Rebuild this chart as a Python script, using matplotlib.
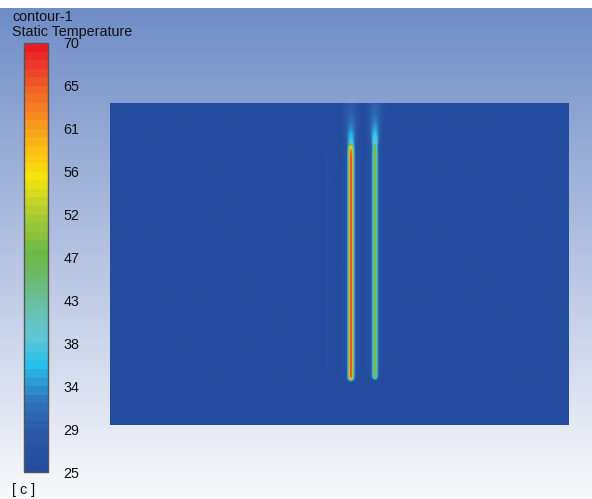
import numpy as np
import matplotlib.pyplot as plt
from matplotlib.colors import LinearSegmentedColormap, BoundaryNorm
from matplotlib.cm import ScalarMappable

plt.rcParams['font.family'] = ['Liberation Sans', 'DejaVu Sans']

# legend scale
t_min, t_max = 25, 70
n_bands = 50
tick_values = [25, 29.5, 34, 38.5, 43, 47.5, 52, 56.5, 61, 65.5, 70]
tick_labels = ['25', '29', '34', '38', '43', '47', '52', '56', '61', '65', '70']

# colour stops of the banded rainbow
anchor_temps = [25, 29, 32, 34.5, 36, 39, 42, 45, 48, 52, 56, 59, 62, 65, 68, 70]
anchor_colors = ['#244c9e', '#2a5aa8', '#2f74bb', '#2aa2da', '#27c0ec', '#5ec6d4',
                 '#68c0ad', '#6bbb70', '#6cb944', '#a9ca36', '#f4e60a', '#fcc012',
                 '#f7941e', '#f26a25', '#ec3b2b', '#ec1c24']

# domain size (pixels of the picture)
dom_w, dom_h = 459, 322

# hot streaks: centre x, peak temperature, top y, bottom y, half width
streak_x = [241, 265, 217]
streak_peak = [66, 48, 27.5]
streak_top = [281, 283, 272]
streak_bottom = [45, 46, 55]
streak_width = [1.9, 1.8, 0.9]
# glow above the tips and weak halo along the streaks
plume_amp = [12, 12, 0]
plume_tail = [5, 6, 0]
halo_amp = [2.0, 2.0, 0]

# background gradient of the window
bg_top = np.array([112, 141, 199]) / 255
bg_bottom = np.array([249, 249, 251]) / 255


def sig(z):
    return 1 / (1 + np.exp(-z))


stops = [(t - t_min) / (t_max - t_min) for t in anchor_temps]
smooth = LinearSegmentedColormap.from_list('fluent', list(zip(stops, anchor_colors)))
cmap = LinearSegmentedColormap.from_list('bands', smooth(np.linspace(0, 1, n_bands)), N=n_bands)
levels = np.linspace(t_min, t_max, n_bands + 1)
norm = BoundaryNorm(levels, cmap.N)

# temperature field
gx = np.linspace(0, dom_w, 920)
gy = np.linspace(0, dom_h, 645)
X, Y = np.meshgrid(gx, gy)
field = np.zeros(X.shape)
for x0, pk, yt, yb, w, pa, ptail, ha in zip(streak_x, streak_peak, streak_top, streak_bottom,
                                             streak_width, plume_amp, plume_tail, halo_amp):
    dx = X - x0
    along = sig((yt - Y) / 2.5) * sig((Y - yb) / 0.8)
    core = (pk - t_min) * np.exp(-0.5 * (dx / w) ** 2) * along
    above = np.clip(Y - yt + 4, 0, None)
    pw = 2.2 + 0.08 * above
    plume = (pa * np.exp(-above / 16) + ptail * np.exp(-above / 90)) \
        * np.exp(-0.5 * (dx / pw) ** 2) * sig((Y - yt + 6) / 2)
    halo = ha * np.exp(-0.5 * (dx / 7) ** 2) * sig((yt + 20 - Y) / 10) * sig((Y - yb) / 3)
    field = np.maximum(field, np.maximum(core, plume) + halo)
field = t_min + field

fig = plt.figure(figsize=(5.92, 4.99), dpi=100)

# window background
bg = fig.add_axes([0, 0, 1, 491 / 499])
frac = np.linspace(0, 1, 256)[:, None]
grad = bg_top[None, :] * (1 - frac) + bg_bottom[None, :] * frac
bg.imshow(grad[:, None, :], aspect='auto', extent=[0, 1, 0, 1])
bg.set_axis_off()

# contour domain
ax = fig.add_axes([110 / 592, (499 - 425) / 499, dom_w / 592, dom_h / 499])
ax.imshow(field, origin='lower', extent=[0, dom_w, 0, dom_h], cmap=cmap, norm=norm,
          aspect='auto', interpolation='bilinear')
ax.set_axis_off()

# colour bar
cax = fig.add_axes([24 / 592, (499 - 472) / 499, 24 / 592, 429 / 499])
cb = fig.colorbar(ScalarMappable(norm=norm, cmap=cmap), cax=cax, ticks=tick_values)
cb.minorticks_off()
cb.ax.set_yticklabels(tick_labels)
cb.ax.tick_params(length=0, pad=11, labelsize=10.3, labelcolor='#111111')
cb.outline.set_edgecolor('#555555')
cb.outline.set_linewidth(1.0)

fig.text(12 / 592, 1 - 17 / 499, 'contour-1', fontsize=10.3, va='center', color='#111111')
fig.text(12 / 592, 1 - 32 / 499, 'Static Temperature', fontsize=10.3, va='center', color='#111111')
fig.text(12 / 592, 1 - 490 / 499, '[ c ]', fontsize=10.3, va='center', color='#111111')

fig.savefig('out.png', dpi=100)
